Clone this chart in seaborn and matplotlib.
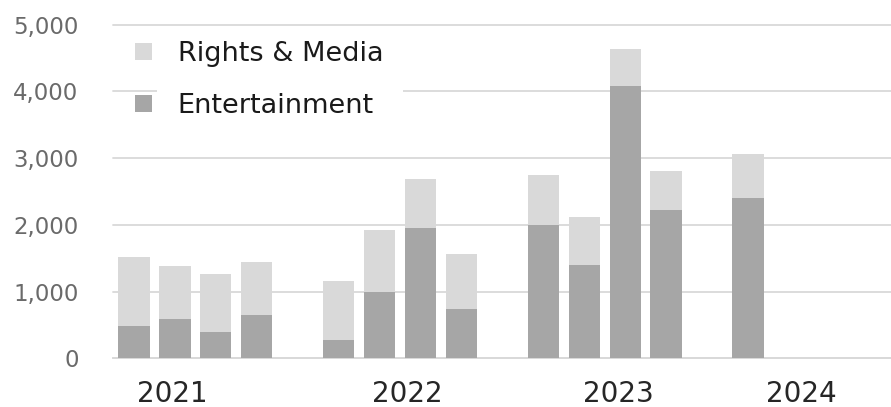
import matplotlib
matplotlib.use("Agg")
import matplotlib.pyplot as plt
from matplotlib.patches import Patch, Rectangle
import numpy as np
import pandas as pd
import seaborn as sns

# Quarterly revenue by segment (quarters grouped by year)
years = ["2021", "2022", "2023", "2024"]
quarters_per_year = [4, 4, 4, 1]
entertainment = [480, 585, 400, 645, 280, 1000, 1960, 740, 1995, 1400, 4085, 2220, 2405]
rights_media = [1045, 805, 870, 795, 885, 920, 725, 830, 750, 715, 545, 590, 650]
y_ticks = [0, 1000, 2000, 3000, 4000, 5000]

LIGHT = "#d9d9d9"
DARK = "#a6a6a6"
GRID = "#d9d9d9"

# Category slots: four quarters per year with one empty slot between years
slot_names = []
rows = []
k = 0
for yi, (yr, nq) in enumerate(zip(years, quarters_per_year)):
    for q in range(4):
        name = f"{yr}Q{q + 1}"
        slot_names.append(name)
        if q < nq:
            rows.append({"slot": name, "ent": entertainment[k],
                         "total": entertainment[k] + rights_media[k]})
            k += 1
    if yi < len(years) - 1:
        slot_names.append(f"gap{yi}")
df = pd.DataFrame(rows)

sns.set_theme(style="white")
plt.rcParams["font.family"] = ["DejaVu Sans"]

W, H = 891, 407
fig = plt.figure(figsize=(W / 100, H / 100), dpi=100)
ax_left, ax_right, ax_top, ax_bottom = 113.3, 891.5, 24.7, 358.3
ax = fig.add_axes([ax_left / W, (H - ax_bottom) / H,
                   (ax_right - ax_left) / W, (ax_bottom - ax_top) / H])

sns.barplot(data=df, x="slot", y="total", order=slot_names, color=LIGHT,
            saturation=1, width=0.77, linewidth=0, ax=ax, zorder=2)
sns.barplot(data=df, x="slot", y="ent", order=slot_names, color=DARK,
            saturation=1, width=0.77, linewidth=0, ax=ax, zorder=3)

ax.set_xlim(-0.5, len(slot_names) - 0.5)
ax.set_ylim(0, 5000)
ax.set_yticks(y_ticks)
ax.set_yticklabels([f"{v:,}" for v in y_ticks], fontsize=16.5, color="#6a6a6a")
ax.tick_params(axis="y", length=0, pad=25)
ax.tick_params(axis="x", length=0)
ax.set_xticks([])
ax.set_xlabel("")
ax.set_ylabel("")

ax.set_axisbelow(True)
ax.yaxis.grid(True, color=GRID, linewidth=1.3)
for gl in ax.get_ygridlines():
    gl.set_clip_on(False)
for side in ["left", "right", "top"]:
    ax.spines[side].set_visible(False)
ax.spines["bottom"].set_color(GRID)
ax.spines["bottom"].set_linewidth(1.3)

# Year labels beneath each quarter group
year_label_x = [0.93, 6.69, 11.83, 16.31]
for yr, xpos in zip(years, year_label_x):
    ax.text(xpos, -0.108, yr, transform=ax.get_xaxis_transform(),
            ha="center", va="center", fontsize=20, color="#262626")

# White backdrop behind the legend text
ax.add_patch(Rectangle((157 / W, (H - 125) / H), (403 - 157) / W, 90 / H,
                       transform=fig.transFigure, facecolor="white",
                       edgecolor="none", zorder=1.5, clip_on=False))

handles = [Patch(facecolor=LIGHT, edgecolor="none", label="Rights & Media"),
           Patch(facecolor=DARK, edgecolor="none", label="Entertainment")]
leg = ax.legend(handles=handles, loc="upper left",
                bbox_to_anchor=(135 / W, (H - 41) / H),
                bbox_transform=fig.transFigure, frameon=False,
                fontsize=19.5, handlelength=0.63, handleheight=0.63,
                handletextpad=0.95, labelspacing=0.96, borderpad=0,
                borderaxespad=0)
for t in leg.get_texts():
    t.set_color("#1a1a1a")
leg.set_zorder(5)

fig.savefig("out.png", dpi=100, facecolor="white")
